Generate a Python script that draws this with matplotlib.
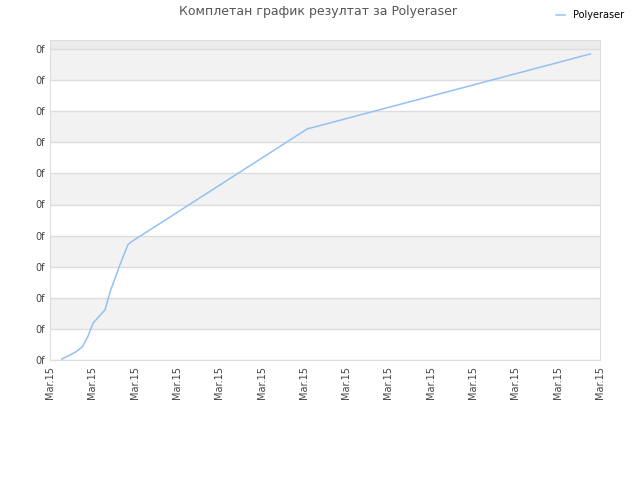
import matplotlib
matplotlib.use('Agg')
import matplotlib.pyplot as plt
import numpy as np

# данные (x в шагах сетки дат, y в шагах сетки значений)
x_vals = [0.28, 0.47, 0.61, 0.76, 0.83, 0.90, 1.02, 1.30, 1.42, 1.65, 1.84, 1.91, 6.08, 12.77]
y_vals = [0.03, 0.16, 0.26, 0.42, 0.58, 0.77, 1.19, 1.61, 2.19, 3.05, 3.70, 3.79, 7.43, 9.84]
x_ticks = list(range(14))
x_labels = ['Mar.15'] * 14
y_ticks = list(range(11))
y_labels = ['0f'] * 11

title = 'Комплетан график резултат за Polyeraser'
series_name = 'Polyeraser'

fig = plt.figure(figsize=(6.4, 4.8), dpi=100)
ax = fig.add_axes([50/640, 120/480, 550/640, 320/480])

ymax = 320/31.1
ax.set_xlim(0, 13)
ax.set_ylim(0, ymax)

# полосы фона
ax.axhspan(10, ymax, color='#ececec', zorder=0, lw=0)
for i in range(0, 10):
    if i % 2 == 1:
        ax.axhspan(i, i + 1, color='#f2f2f2', zorder=0, lw=0)
for yt in y_ticks:
    ax.axhline(yt, color='#dddddd', lw=1, zorder=1)

line, = ax.plot(x_vals, y_vals, color='#92c1f2', lw=1.1, zorder=3, label=series_name)

ax.set_xticks(x_ticks)
ax.set_xticklabels(x_labels, rotation=90, fontsize=7, color='#444444')
ax.set_yticks(y_ticks)
ax.set_yticklabels(y_labels, fontsize=7, color='#444444')
ax.tick_params(length=0, pad=4)
for s in ax.spines.values():
    s.set_color('#dddddd')

fig.text(318/640, 1 - 12/480, title, ha='center', va='center', fontsize=9, color='#555555')
fig.legend(handles=[line], loc='center', bbox_to_anchor=(590/640, 1 - 15/480),
           frameon=False, fontsize=7, handlelength=1.0, handletextpad=0.8)

fig.savefig('out.png', dpi=100)
